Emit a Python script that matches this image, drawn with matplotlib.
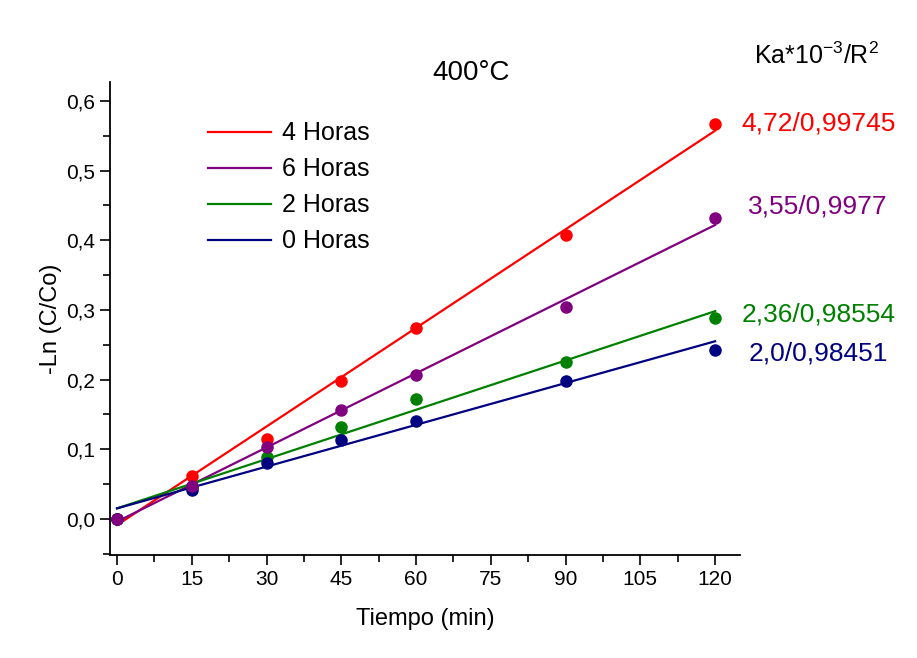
import matplotlib
matplotlib.use("Agg")
import matplotlib.pyplot as plt
import numpy as np
from matplotlib.ticker import MultipleLocator, FuncFormatter

plt.rcParams['font.family'] = ['Liberation Sans', 'DejaVu Sans']
plt.rcParams['mathtext.default'] = 'regular'

tiempo = [0, 15, 30, 45, 60, 90, 120]
series = ["4 Horas", "6 Horas", "2 Horas", "0 Horas"]
colores = ["#ff0000", "#800080", "#008000", "#000080"]
h4 = [0.0, 0.062, 0.115, 0.198, 0.274, 0.407, 0.567]
h6 = [0.0, 0.047, 0.103, 0.156, 0.207, 0.304, 0.432]
h2 = [0.0, 0.046, 0.089, 0.132, 0.172, 0.225, 0.288]
h0 = [0.0, 0.042, 0.080, 0.113, 0.141, 0.198, 0.242]
pendientes = [4.72e-3, 3.55e-3, 2.36e-3, 2.0e-3]
intercepto = [-0.009, -0.004, 0.015, 0.015]
etiquetas = ["4,72/0,99745", "3,55/0,9977", "2,36/0,98554", "2,0/0,98451"]
etiq_y = [0.568, 0.448, 0.293, 0.238]

fig = plt.figure(figsize=(9.17, 6.58), dpi=100)
ax = fig.add_axes([0.12, 0.1565, 0.687, 0.7185])

datos = [h4, h6, h2, h0]
# orden de dibujo: el morado queda encima en t=0
for i in [0, 2, 3, 1]:
    ax.plot(tiempo, datos[i], 'o', color=colores[i], markersize=8, zorder=3)
xx = np.array([0, 120])
for m, b, c, s in zip(pendientes, intercepto, colores, series):
    ax.plot(xx, m * xx + b, color=c, linewidth=1.6, label=s, zorder=2)

for t, c, yv in zip(etiquetas, colores, etiq_y):
    ax.text(1.124, yv, t, color=c, fontsize=19, transform=ax.get_yaxis_transform(),
            ha='center', va='center')

ax.set_xlim(-1.4, 125)
ax.set_ylim(-0.052, 0.627)
ax.xaxis.set_major_locator(MultipleLocator(15))
ax.xaxis.set_minor_locator(MultipleLocator(7.5))
ax.yaxis.set_major_locator(MultipleLocator(0.1))
ax.yaxis.set_minor_locator(MultipleLocator(0.05))
ax.yaxis.set_major_formatter(FuncFormatter(lambda v, p: "{:.1f}".format(v).replace('.', ',')))
ax.tick_params(which='major', direction='out', length=7, width=1.2, labelsize=15)
ax.tick_params(which='minor', direction='out', length=5, width=1.2)
ax.spines['top'].set_visible(False)
ax.spines['right'].set_visible(False)
ax.spines['left'].set_linewidth(1.3)
ax.spines['bottom'].set_linewidth(1.3)

ax.set_xlabel("Tiempo (min)", size=17, labelpad=14)
ax.set_ylabel("-Ln (C/Co)", size=17, labelpad=3)
fig.text(0.514, 0.889, "400°C", size=20, ha='center', va='center')
fig.text(0.891, 0.915, "Ka*10$^{-3}$/R$^2$", size=18, ha='center', va='center')

lg = ax.legend(loc='upper left', bbox_to_anchor=(0.12, 0.965), frameon=False,
               fontsize=18, handlelength=2.5, labelspacing=0.48, handletextpad=0.45)

fig.savefig("out.png", dpi=100)
plt.close(fig)
